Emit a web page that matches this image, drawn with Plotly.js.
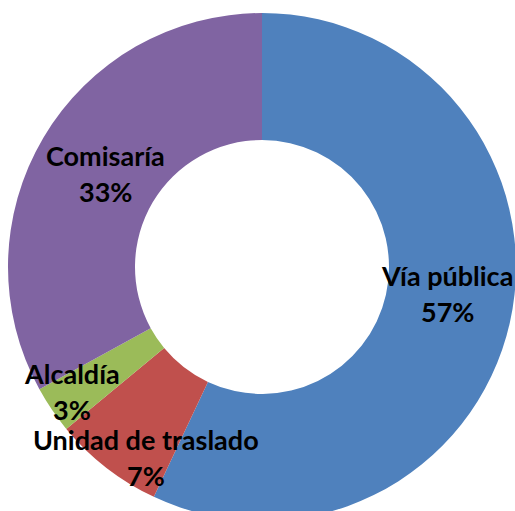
<!DOCTYPE html>
<html>
<head>
<meta charset="utf-8">
<script src="https://cdn.plot.ly/plotly-3.0.1.min.js"></script>
<style>
html,body{margin:0;padding:0;overflow:hidden;background:#fff;}
#chart{width:524px;height:534px;}
</style>
</head>
<body>
<div id="chart"></div>
<script>
const labels = ["Vía pública", "Unidad de traslado", "Alcaldía", "Comisaría"];
const values = [57, 7, 3, 33];
const colors = ["#4F81BD", "#C0504D", "#9BBB59", "#8064A2"];

// label placement: fraction of outer radius and angular shift (deg) from slice middle
const labelRadius = [0.736, 0.878, 0.892, 0.72];
const labelShift = [-4.6, -6.6, 1.0, 0.3];

const total = values.reduce((a, b) => a + b, 0);
const annotations = [];
let cum = 0;
values.forEach((v, i) => {
  const mid = ((cum + v / 2) / total * 360 + labelShift[i]) * Math.PI / 180;
  cum += v;
  const r = 0.5 * labelRadius[i];
  const x = 0.5 + r * Math.sin(mid);
  const y = 0.5 + r * Math.cos(mid);
  const pct = Math.round(v / total * 100) + "%";
  const font = {family: "Lato, 'Open Sans', sans-serif", size: 27, color: "#000", weight: "bold"};
  annotations.push({x: x, y: y, xref: "paper", yref: "paper", text: labels[i], showarrow: false, yshift: 18, font: font, xanchor: "center", yanchor: "middle"});
  annotations.push({x: x, y: y, xref: "paper", yref: "paper", text: pct, showarrow: false, yshift: -18, font: font, xanchor: "center", yanchor: "middle"});
});

Plotly.newPlot("chart", [{
  type: "pie",
  labels: labels,
  values: values,
  hole: 0.5,
  sort: false,
  direction: "clockwise",
  rotation: 0,
  textinfo: "none",
  hoverinfo: "label+percent",
  marker: {colors: colors, line: {color: "#ffffff", width: 0}}
}], {
  width: 524,
  height: 534,
  margin: {l: 8, r: 8, t: 13, b: 13},
  showlegend: false,
  paper_bgcolor: "#ffffff",
  annotations: annotations
}, {displayModeBar: false, staticPlot: true});
</script>
</body>
</html>
